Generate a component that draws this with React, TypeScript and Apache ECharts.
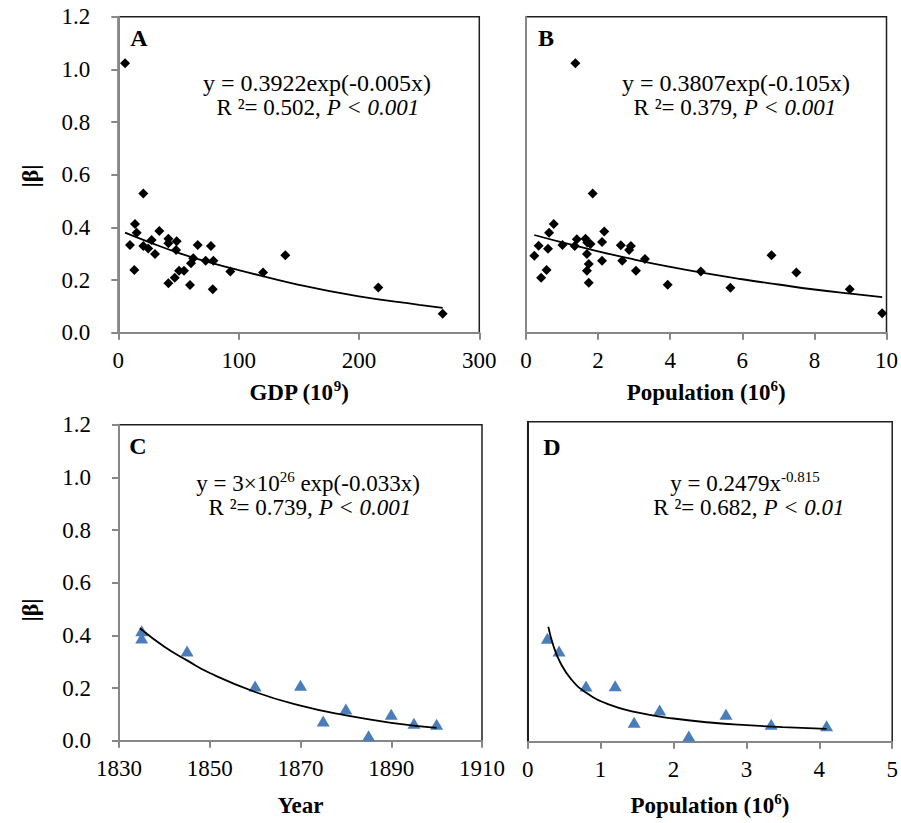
import React, { useEffect, useRef } from "react";
import * as echarts from "echarts";

// ---------- Data ----------
// Panel A: GDP (10^9) vs |beta|
const gdpA = [5.6, 20.8, 13.9, 15.3, 9.7, 13.3, 20.8, 24.9, 27.7, 30.5, 34.1, 41.6, 41.6, 48.5, 48.0, 41.6, 46.9, 50.5, 54.6, 59.6, 60.4, 62.3, 66.0, 72.6, 77.0, 79.0, 78.5, 93.1, 120.3, 138.8, 216.1, 269.6];
const betaA = [1.023, 0.529, 0.413, 0.380, 0.333, 0.238, 0.329, 0.320, 0.352, 0.299, 0.386, 0.357, 0.340, 0.347, 0.314, 0.188, 0.209, 0.235, 0.235, 0.181, 0.264, 0.283, 0.333, 0.273, 0.329, 0.273, 0.165, 0.232, 0.229, 0.294, 0.172, 0.072];
const fitAx = [5.6, 25, 50, 75, 100, 150, 200, 250, 269.6];
const fitAy = [0.380, 0.345, 0.303, 0.268, 0.238, 0.182, 0.138, 0.106, 0.094];

// Panel B: Population (10^6) vs |beta|
const popB = [1.37, 1.85, 0.77, 0.64, 0.35, 0.23, 0.61, 0.57, 0.42, 1.01, 1.35, 1.41, 1.65, 1.70, 1.79, 1.69, 1.74, 1.69, 1.74, 2.11, 2.17, 2.11, 2.63, 2.91, 2.86, 2.67, 3.30, 3.05, 3.93, 4.85, 5.67, 6.81, 7.50, 8.98, 9.88];
const betaB = [1.023, 0.529, 0.413, 0.380, 0.330, 0.292, 0.319, 0.238, 0.209, 0.333, 0.329, 0.355, 0.357, 0.343, 0.337, 0.299, 0.261, 0.235, 0.190, 0.344, 0.384, 0.273, 0.332, 0.329, 0.314, 0.273, 0.280, 0.235, 0.182, 0.232, 0.171, 0.294, 0.229, 0.165, 0.074];
const fitBx = [0.23, 1, 2, 3, 4, 5, 6, 7, 8, 9, 9.88];
const fitBy = [0.371, 0.343, 0.309, 0.278, 0.250, 0.225, 0.203, 0.183, 0.164, 0.148, 0.135];

// Panel C: Year vs |beta|
const yearC = [1835, 1835, 1845, 1860, 1870, 1875, 1880, 1885, 1890, 1895, 1900];
const betaC = [0.418, 0.390, 0.341, 0.208, 0.211, 0.075, 0.120, 0.019, 0.100, 0.066, 0.062];
const fitCx = [1834.6, 1840, 1845, 1850, 1860, 1870, 1880, 1890, 1900];
const fitCy = [0.427, 0.357, 0.305, 0.257, 0.185, 0.133, 0.096, 0.068, 0.049];

// Panel D: Population (10^6) vs |beta|
const popD = [0.27, 0.43, 0.80, 1.20, 1.46, 1.81, 2.21, 2.72, 3.34, 4.10];
const betaD = [0.388, 0.340, 0.209, 0.210, 0.073, 0.119, 0.021, 0.103, 0.065, 0.060];
const fitDx = [0.283, 0.35, 0.45, 0.6, 0.8, 1.1, 1.5, 2, 2.5, 3, 3.5, 4.1];
const fitDy = [0.431, 0.362, 0.295, 0.233, 0.184, 0.141, 0.110, 0.087, 0.072, 0.062, 0.055, 0.048];

// Axis tick settings
const betaRange = [0, 1.2];
const betaStep = 0.2;
const gdpRange = [0, 300];
const gdpStep = 100;
const popBRange = [0, 10];
const popBStep = 2;
const yearRange = [1830, 1910];
const yearStep = 20;
const popDRange = [0, 5];
const popDStep = 1;

const SERIF = "'Liberation Serif', 'Times New Roman', serif";
const GRAY = "#878787";
const DARK = "#1e1e1e";
const BLUE = "#4a7ebb";

const pairs = (xs: number[], ys: number[]) => xs.map((x, i) => [x, ys[i]]);

const supRich = {
  m: { fontFamily: SERIF, fontSize: 23, fontWeight: "bold", color: "#000", lineHeight: 27 },
  s: { fontFamily: SERIF, fontSize: 15, fontWeight: "bold", color: "#000", lineHeight: 15, verticalAlign: "top" },
};

function xAxisDef(grid: number, range: number[], step: number, name: string, gap: number, dark = false) {
  return {
    type: "value",
    gridIndex: grid,
    min: range[0],
    max: range[1],
    interval: step,
    axisLine: { show: true, lineStyle: { color: dark ? DARK : GRAY, width: 2 } },
    axisTick: { show: true, inside: false, length: 7, lineStyle: { color: GRAY, width: 2 } },
    axisLabel: {
      show: true,
      margin: 16,
      fontFamily: SERIF,
      fontSize: 23,
      color: "#000",
      showMinLabel: true,
      showMaxLabel: true,
      formatter: (v: number) => String(v),
    },
    splitLine: { show: false },
    name,
    nameLocation: "middle",
    nameGap: gap,
    nameTextStyle: { rich: supRich },
  };
}

function yAxisDef(grid: number, labels: boolean, ticks: boolean, color: string) {
  return {
    type: "value",
    gridIndex: grid,
    min: betaRange[0],
    max: betaRange[1],
    interval: betaStep,
    axisLine: { show: true, lineStyle: { color, width: 2 } },
    axisTick: { show: ticks, inside: false, length: 7, lineStyle: { color: GRAY, width: 2 } },
    axisLabel: {
      show: labels,
      margin: 28,
      fontFamily: SERIF,
      fontSize: 23,
      color: "#000",
      showMinLabel: true,
      showMaxLabel: true,
      formatter: (v: number) => v.toFixed(1),
    },
    splitLine: { show: false },
  };
}

function txt(x: number, y: number, text: string, opts: any = {}) {
  return {
    type: "text",
    x,
    y,
    rotation: opts.rotation || 0,
    z: 100,
    silent: true,
    style: {
      text,
      fontFamily: SERIF,
      fontSize: opts.fontSize || 22,
      fontWeight: opts.bold ? "bold" : "normal",
      fill: "#000",
      align: "center",
      verticalAlign: "middle",
      rich: opts.rich,
    },
  };
}

const eqRich = {
  n: { fontFamily: SERIF, fontSize: 23, fill: "#000", lineHeight: 27 },
  i: { fontFamily: SERIF, fontSize: 23, fill: "#000", fontStyle: "italic", lineHeight: 27 },
  s: { fontFamily: SERIF, fontSize: 15, fill: "#000", lineHeight: 15, verticalAlign: "top" },
};

export default function App() {
  const ref = useRef<HTMLDivElement>(null);

  useEffect(() => {
    if (!ref.current) return;
    const chart = echarts.init(ref.current, undefined, { renderer: "svg" });

    const scatter = (xi: number, xs: number[], ys: number[], triangle: boolean) => ({
      type: "scatter",
      xAxisIndex: xi,
      yAxisIndex: xi,
      data: pairs(xs, ys),
      symbol: triangle ? "triangle" : "diamond",
      symbolSize: triangle ? [13, 11] : [10, 10],
      itemStyle: { color: triangle ? BLUE : "#000", opacity: 1 },
      z: 3,
      silent: true,
    });
    const fit = (xi: number, xs: number[], ys: number[]) => ({
      type: "line",
      xAxisIndex: xi,
      yAxisIndex: xi,
      data: pairs(xs, ys),
      smooth: true,
      showSymbol: false,
      symbol: "none",
      lineStyle: { color: "#000", width: 1.8 },
      z: 4,
      silent: true,
    });

    const gridBase = { show: true, borderColor: DARK, borderWidth: 1.5, backgroundColor: "transparent", containLabel: false };

    chart.setOption({
      animation: false,
      backgroundColor: "#fff",
      grid: [
        { ...gridBase, left: 118.3, top: 16.7, width: 361, height: 316 },
        { ...gridBase, left: 526, top: 16.7, width: 363.3, height: 316 },
        { ...gridBase, left: 119, top: 424.7, width: 363, height: 316 },
        { ...gridBase, left: 527.7, top: 421.7, width: 364.5, height: 320 },
      ],
      xAxis: [
        xAxisDef(0, gdpRange, gdpStep, "{m|GDP (10}{s|9}{m|)}", 46),
        xAxisDef(1, popBRange, popBStep, "{m|Population (10}{s|6}{m|)}", 46),
        xAxisDef(2, yearRange, yearStep, "{m|Year}", 51),
        xAxisDef(3, popDRange, popDStep, "{m|Population (10}{s|6}{m|)}", 50),
      ],
      yAxis: [
        yAxisDef(0, true, true, GRAY),
        yAxisDef(1, false, false, GRAY),
        yAxisDef(2, true, true, GRAY),
        yAxisDef(3, false, false, DARK),
      ],
      series: [
        fit(0, fitAx, fitAy),
        scatter(0, gdpA, betaA, false),
        fit(1, fitBx, fitBy),
        scatter(1, popB, betaB, false),
        fit(2, fitCx, fitCy),
        scatter(2, yearC, betaC, true),
        fit(3, fitDx, fitDy),
        scatter(3, popD, betaD, true),
      ],
      graphic: [
        txt(139, 38, "A", { bold: true, fontSize: 24 }),
        txt(546, 38, "B", { bold: true, fontSize: 24 }),
        txt(138, 446, "C", { bold: true, fontSize: 24 }),
        txt(552, 447, "D", { bold: true, fontSize: 24 }),
        txt(30, 176, "|β|", { bold: true, fontSize: 24, rotation: Math.PI / 2 }),
        txt(30, 610, "|β|", { bold: true, fontSize: 24, rotation: Math.PI / 2 }),
        txt(317, 83, "y = 0.3922exp(-0.005x)", { fontSize: 24 }),
        txt(318, 107, "{n|R ²= 0.502, }{i|P < 0.001}", { rich: eqRich }),
        txt(736, 83, "y = 0.3807exp(-0.105x)", { fontSize: 24 }),
        txt(735, 107, "{n|R ²= 0.379, }{i|P < 0.001}", { rich: eqRich }),
        txt(308, 483, "{n|y = 3×10}{s|26}{n| exp(-0.033x)}", { rich: eqRich }),
        txt(310, 507, "{n|R ²= 0.739, }{i|P < 0.001}", { rich: eqRich }),
        txt(745, 483, "{n|y = 0.2479x}{s|-0.815}", { rich: eqRich }),
        txt(749, 507, "{n|R ²= 0.682, }{i|P < 0.01}", { rich: eqRich }),
      ],
    });

    return () => chart.dispose();
  }, []);

  return (
    <div
      ref={ref}
      style={{ position: "absolute", left: 0, top: 0, width: 901, height: 823, background: "#fff" }}
    />
  );
}
